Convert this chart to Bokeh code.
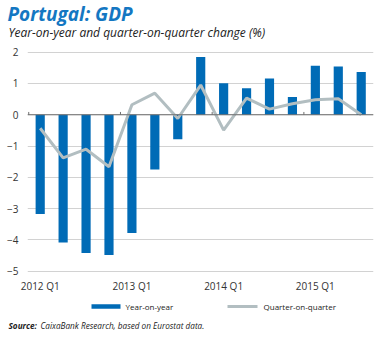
from bokeh.plotting import figure
from bokeh.models import ColumnDataSource, FixedTicker, Span, Range1d
from bokeh.layouts import column
from bokeh.core.properties import value
from bokeh.embed import file_html
from bokeh.resources import INLINE

quarters = ["2012 Q1", "2012 Q2", "2012 Q3", "2012 Q4",
            "2013 Q1", "2013 Q2", "2013 Q3", "2013 Q4",
            "2014 Q1", "2014 Q2", "2014 Q3", "2014 Q4",
            "2015 Q1", "2015 Q2", "2015 Q3"]
yoy = [-3.17, -4.08, -4.42, -4.48, -3.78, -1.75, -0.78, 1.85, 1.01, 0.85, 1.16, 0.57, 1.57, 1.54, 1.37]
qoq = [-0.43, -1.38, -1.10, -1.66, 0.32, 0.69, -0.12, 0.95, -0.49, 0.53, 0.18, 0.35, 0.48, 0.51, 0.00]
y_ticks = [-5, -4, -3, -2, -1, 0, 1, 2]

title = "Portugal: GDP"
subtitle = "Year-on-year and quarter-on-quarter change (%)"
source_bold = "Source:"
source_rest = "CaixaBank Research, based on Eurostat data."
legend_labels = ["Year-on-year", "Quarter-on-quarter"]

BLUE = "#006BB6"
GRAY = "#B2BEC1"
TITLE_BLUE = "#1477C2"
TXT = "#222222"
FONT = "Open Sans"

W = 380
HEAD_H, MAIN_H, FOOT_H = 40, 255, 43


def blank(h):
    f = figure(width=W, height=h, output_backend="svg", toolbar_location=None,
               x_range=Range1d(0, W), y_range=Range1d(h, 0),
               min_border=0, x_axis_location=None, y_axis_location=None)
    f.outline_line_color = None
    f.grid.visible = False
    f.border_fill_color = "white"
    f.background_fill_color = "white"
    f.frame_align = False
    return f


# ---------- header ----------
head = blank(HEAD_H)
head.text(x=[7], y=[13], text=[title], text_font=value(FONT), text_font_size="19px",
          text_font_style="bold italic", text_color=TITLE_BLUE, text_baseline="middle")
head.text(x=[8], y=[32], text=[subtitle], text_font=value(FONT), text_font_size="12px",
          text_font_style="italic", text_color=TXT, text_baseline="middle")

# ---------- main chart ----------
xs = list(range(len(quarters)))
src = ColumnDataSource(dict(x=xs, yoy=yoy, qoq=qoq))

p = figure(width=W, height=MAIN_H, output_backend="svg", toolbar_location=None,
           x_range=Range1d(-0.554, len(quarters) - 1 + 0.536),
           y_range=Range1d(-5.137, 2.214),
           min_border_left=27, min_border_right=7, min_border_top=5, min_border_bottom=20)
p.frame_align = False
p.outline_line_color = None
p.background_fill_color = "white"
p.border_fill_color = "white"

p.xgrid.grid_line_color = None
p.ygrid.grid_line_color = "#D2D2D2"
p.ygrid.grid_line_width = 1
p.yaxis.ticker = FixedTicker(ticks=y_ticks)

p.yaxis.axis_line_color = None
p.yaxis.major_tick_line_color = None
p.yaxis.minor_tick_line_color = None
p.yaxis.major_tick_out = 0
p.yaxis.minor_tick_out = 0
p.yaxis.major_label_standoff = 9
p.yaxis.major_label_text_font = FONT
p.yaxis.major_label_text_font_size = "10px"
p.yaxis.major_label_text_color = "#333333"

q1_idx = [i for i, q in enumerate(quarters) if q.endswith("Q1")]
p.xaxis.ticker = FixedTicker(ticks=q1_idx)
p.xaxis.major_label_overrides = {i: quarters[i] for i in q1_idx}
p.xaxis.axis_line_color = None
p.xaxis.major_tick_line_color = None
p.xaxis.minor_tick_line_color = None
p.xaxis.major_tick_out = 0
p.xaxis.minor_tick_out = 0
p.xaxis.major_label_standoff = 3
p.xaxis.major_label_text_font = FONT
p.xaxis.major_label_text_font_size = "10px"
p.xaxis.major_label_text_color = "#333333"

p.vbar(x="x", top="yoy", bottom=0, width=0.4, source=src, fill_color=BLUE, line_color=None)

p.add_layout(Span(location=0, dimension="width", line_color="#6E6E6E", line_width=1))
p.segment(x0=[i - 0.5 for i in q1_idx], x1=[i - 0.5 for i in q1_idx],
          y0=[0] * len(q1_idx), y1=[0.09] * len(q1_idx), line_color="#6E6E6E", line_width=1)

p.line(x="x", y="qoq", source=src, line_color=GRAY, line_width=3)

# ---------- footer ----------
foot = blank(FOOT_H)
LEG_Y = 11
foot.segment(x0=[91], x1=[120], y0=[LEG_Y], y1=[LEG_Y], line_color=BLUE, line_width=4.5)
foot.text(x=[125], y=[LEG_Y], text=[legend_labels[0]], text_font=value(FONT), text_font_size="8px",
          text_color=TXT, text_baseline="middle")
foot.segment(x0=[227], x1=[257], y0=[LEG_Y], y1=[LEG_Y], line_color=GRAY, line_width=3)
foot.text(x=[263], y=[LEG_Y], text=[legend_labels[1]], text_font=value(FONT), text_font_size="8px",
          text_color=TXT, text_baseline="middle")

foot.text(x=[8], y=[30], text=[source_bold], text_font=value(FONT), text_font_size="8.2px",
          text_font_style="bold italic", text_color=TXT, text_baseline="middle")
foot.text(x=[40], y=[30], text=[source_rest], text_font=value(FONT), text_font_size="8.2px",
          text_font_style="italic", text_color=TXT, text_baseline="middle")

layout = column(head, p, foot, spacing=0)
open("out.html", "w").write(file_html(layout, INLINE))
